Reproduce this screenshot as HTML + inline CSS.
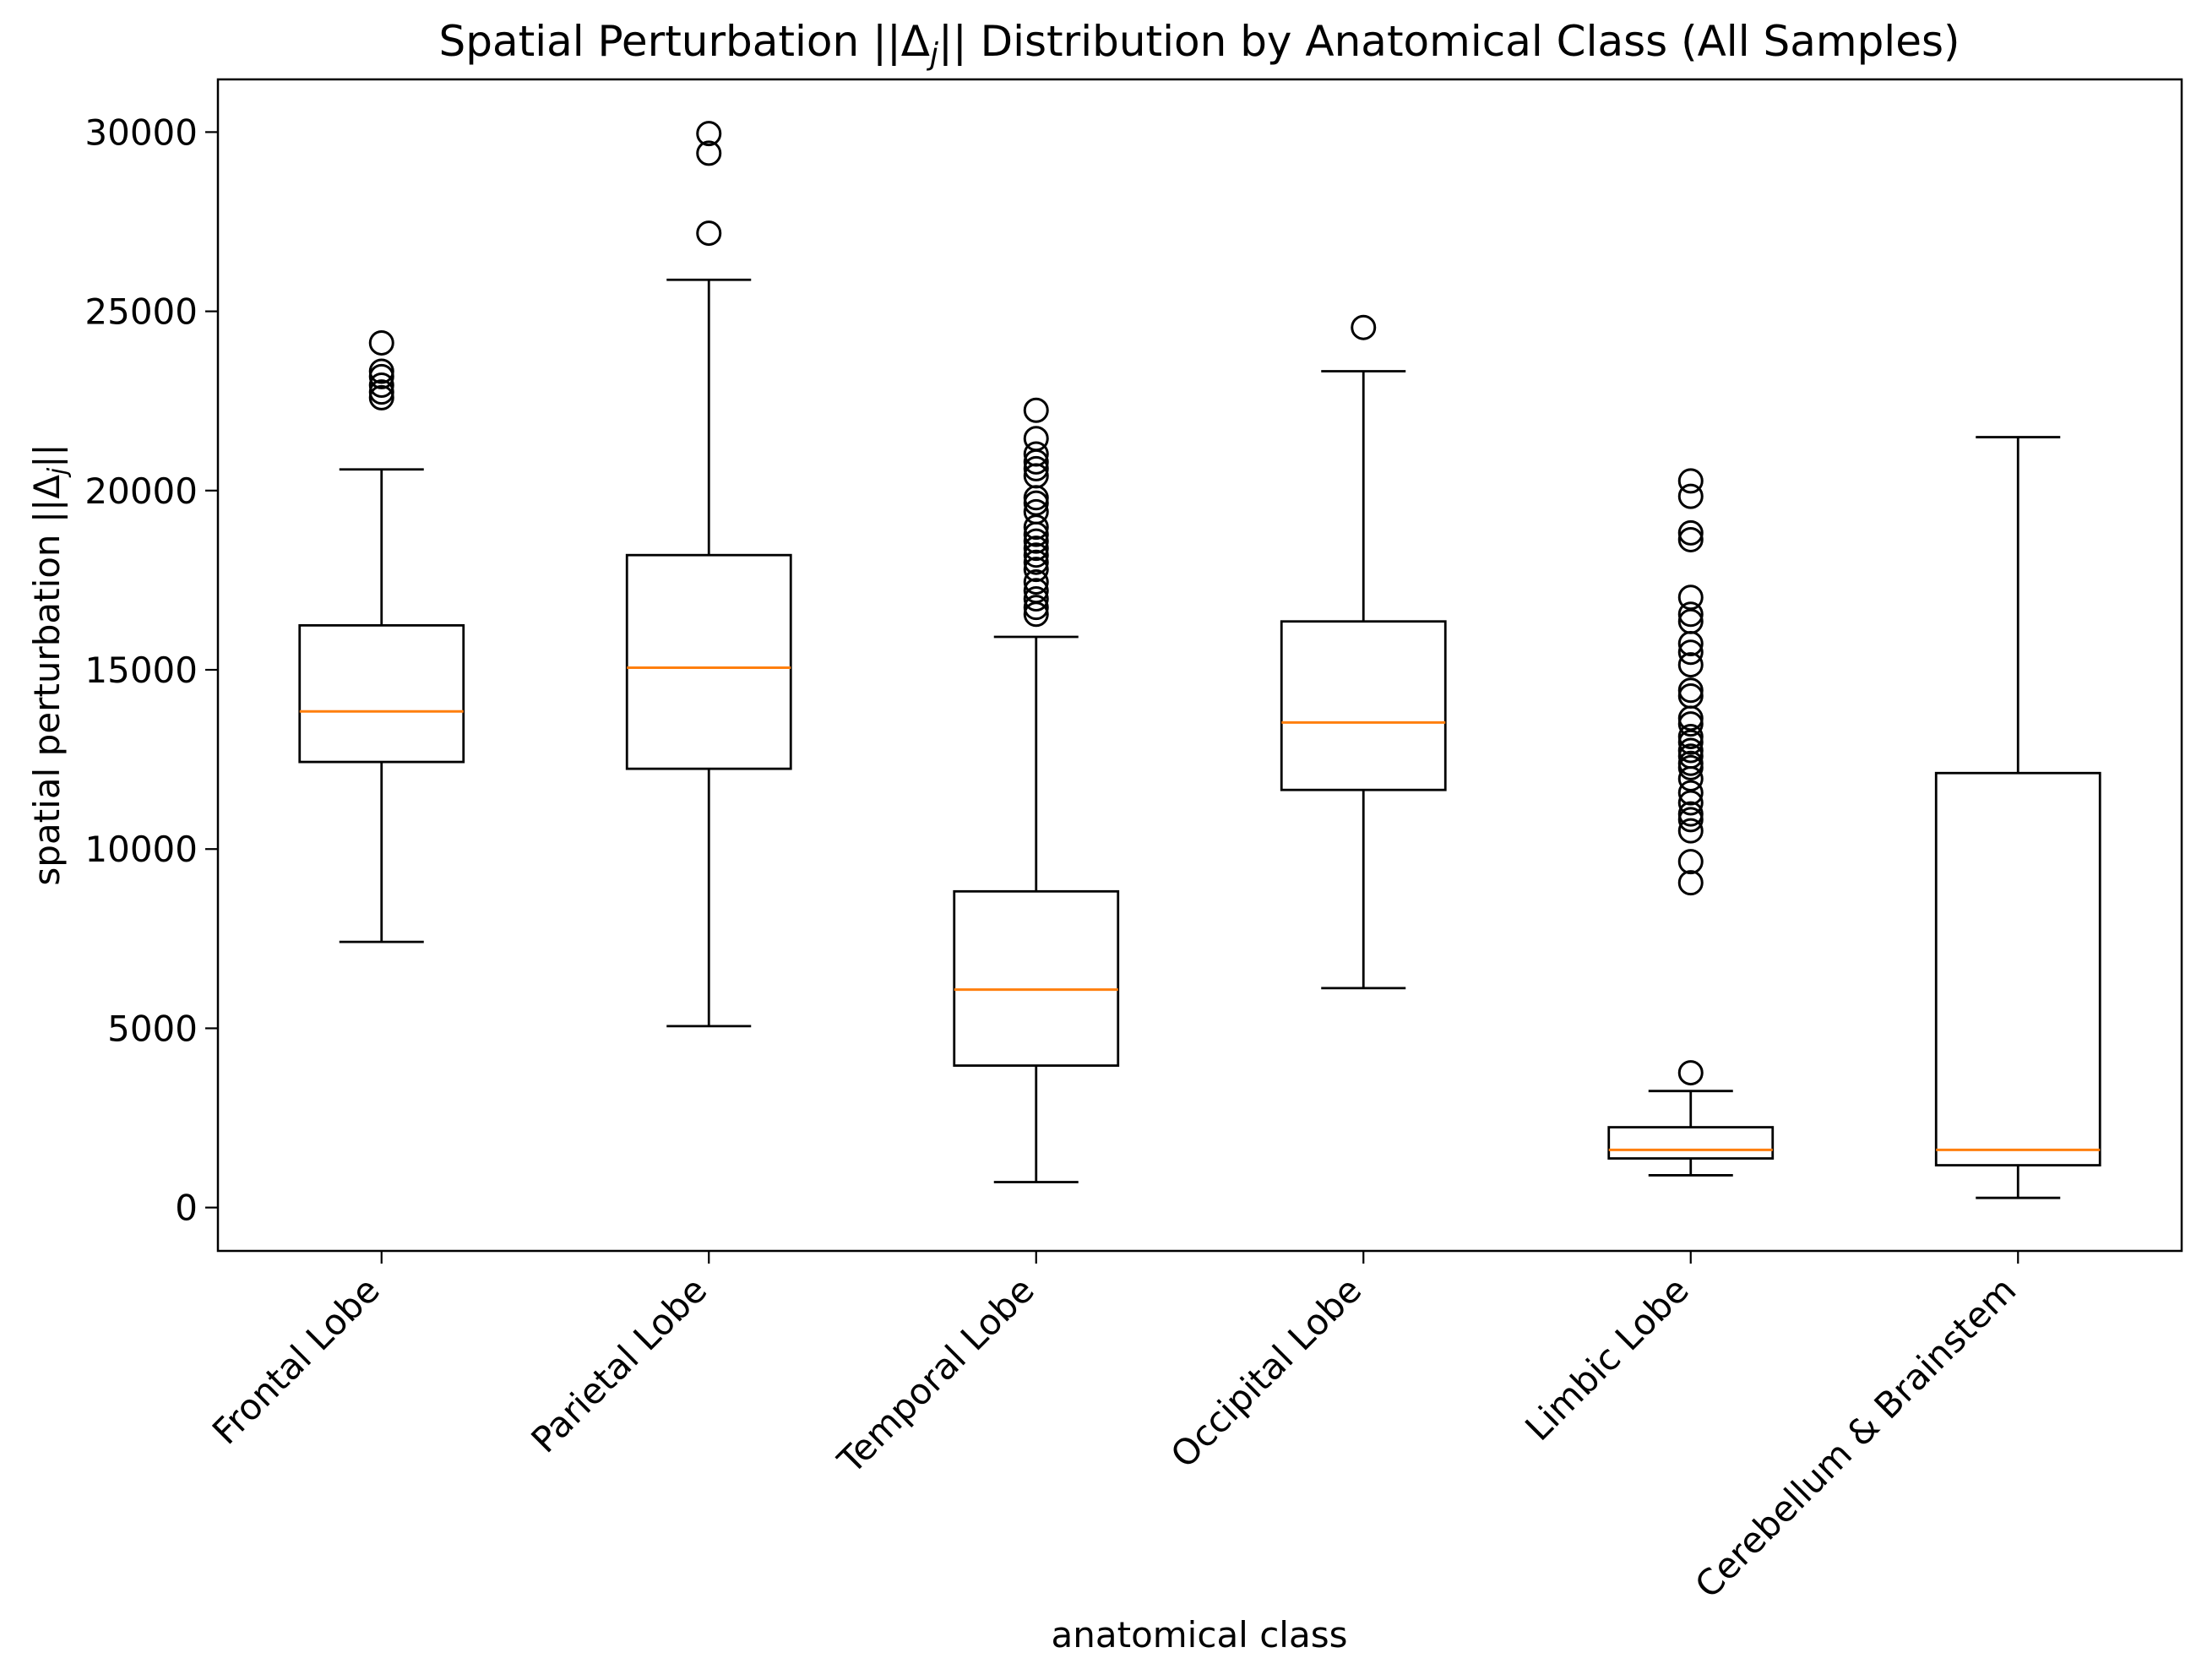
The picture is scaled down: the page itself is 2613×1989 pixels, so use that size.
<!DOCTYPE html>
<html><head><meta charset="utf-8">
<style>
html,body{margin:0;padding:0;background:#fff;}
svg{display:block;font-family:"DejaVu Sans","Liberation Sans",sans-serif;}
</style></head>
<body>
<svg id="chart" width="2613" height="1989" viewBox="0 0 2613 1989" xmlns="http://www.w3.org/2000/svg">
<rect x="0" y="0" width="2613" height="1989" fill="#fff"/>
<text x="1420" y="66" font-size="50" text-anchor="middle">Spatial Perturbation ||Δ<tspan font-style="italic" font-size="36" dy="10">j</tspan><tspan dy="-10">|| Distribution by Anatomical Class (All Samples)</tspan></text>
<g id="marks"></g>
<g id="axes"></g>
<text x="1420" y="1950" font-size="42" text-anchor="middle">anatomical class</text>
<text transform="translate(70,787) rotate(-90)" font-size="42" text-anchor="middle">spatial perturbation ||Δ<tspan font-style="italic" font-size="30" dy="8">j</tspan><tspan dy="-8">||</tspan></text>
</svg>
<script>
const categories = ["Frontal Lobe","Parietal Lobe","Temporal Lobe","Occipital Lobe","Limbic Lobe","Cerebellum & Brainstem"];
const whiskerLow = [7410, 5060, 710, 6120, 900, 270];
const q1 = [12430, 12240, 3960, 11650, 1370, 1180];
const medians = [13840, 15060, 6080, 13530, 1610, 1610];
const q3 = [16240, 18200, 8820, 16350, 2240, 12120];
const whiskerHigh = [20590, 25880, 15920, 23330, 3250, 21490];
const outliersFrontal = [24120, 23330, 23180, 22940, 22750, 22590];
const outliersParietal = [29960, 29410, 27180];
const outliersTemporal = [22240, 21450, 21020, 20800, 20610, 20410, 19800, 19650, 19410, 18980, 18780, 18590, 18390, 18200, 18000, 17800, 17450, 17210, 16980, 16740, 16550];
const outliersOccipital = [24550];
const outliersLimbic = [3760, 20270, 19840, 18820, 18630, 17020, 16550, 16350, 15730, 15490, 15140, 14430, 14270, 13650, 13490, 13140, 12980, 12750, 12590, 12390, 12270, 11960, 11570, 11290, 10980, 10820, 10510, 9650, 9060];
const outliersCerebellum = [];
const yTicks = [0, 5000, 10000, 15000, 20000, 25000, 30000];

const NS = "http://www.w3.org/2000/svg";
const L = 258, R = 2583, T = 94, B = 1481;
const yMin = -1210, yMax = 31470;
function yScale(v){ return B - (v - yMin) / (yMax - yMin) * (B - T); }
function xScale(i){ return L + (i + 0.5) * (R - L) / categories.length; }
const outliers = [outliersFrontal, outliersParietal, outliersTemporal, outliersOccipital, outliersLimbic, outliersCerebellum];

function mk(tag, attrs, parent){
  const e = document.createElementNS(NS, tag);
  for (const k in attrs) e.setAttribute(k, attrs[k]);
  parent.appendChild(e);
  return e;
}
const marks = document.getElementById('marks');
const axes = document.getElementById('axes');
const boxW = 194, capW = 100;

categories.forEach((c, i) => {
  const cx = xScale(i);
  const g = mk('g', {}, marks);
  
  
  const st = {stroke:'#000','stroke-width':2.8,fill:'none'};
  const w1 = mk('line', Object.assign({x1:cx,x2:cx,y1:yScale(whiskerLow[i]),y2:yScale(q1[i])}, st), g);
  
  
  const w2 = mk('line', Object.assign({x1:cx,x2:cx,y1:yScale(q3[i]),y2:yScale(whiskerHigh[i])}, st), g);
  
  
  const c1 = mk('line', Object.assign({x1:cx-capW/2,x2:cx+capW/2,y1:yScale(whiskerLow[i]),y2:yScale(whiskerLow[i])}, st), g);
  
  
  const c2 = mk('line', Object.assign({x1:cx-capW/2,x2:cx+capW/2,y1:yScale(whiskerHigh[i]),y2:yScale(whiskerHigh[i])}, st), g);
  
  
  const bx = mk('rect', Object.assign({x:cx-boxW/2,y:yScale(q3[i]),width:boxW,height:yScale(q1[i])-yScale(q3[i])}, st), g);
  
  
  const md = mk('line', {x1:cx-boxW/2,x2:cx+boxW/2,y1:yScale(medians[i]),y2:yScale(medians[i]),stroke:'#ff7f0e','stroke-width':3}, g);
  
  
  outliers[i].forEach(v => {
    const o = mk('circle', {cx:cx,cy:yScale(v),r:13.5,fill:'none',stroke:'#000','stroke-width':3}, g);
    
    
  });
  const tk = mk('line', {x1:cx,x2:cx,y1:B,y2:B+15,stroke:'#000','stroke-width':2.2}, axes);
  
  
  const tl = mk('text', {transform:`translate(${cx-22},${B+27}) rotate(-45)`,'font-size':42,'text-anchor':'end','dominant-baseline':'hanging'}, axes);
  tl.textContent = c;
  
  
});

yTicks.forEach(v => {
  const y = yScale(v);
  const tk = mk('line', {x1:L-15,x2:L,y1:y,y2:y,stroke:'#000','stroke-width':2.2}, axes);
  
  
  const tl = mk('text', {x:L-24,y:y+15,'font-size':42,'text-anchor':'end'}, axes);
  tl.textContent = String(v);
  
  
});
const frame = mk('rect', {x:L,y:T,width:R-L,height:B-T,fill:'none',stroke:'#000','stroke-width':2.5}, axes);


</script>
</body></html>
